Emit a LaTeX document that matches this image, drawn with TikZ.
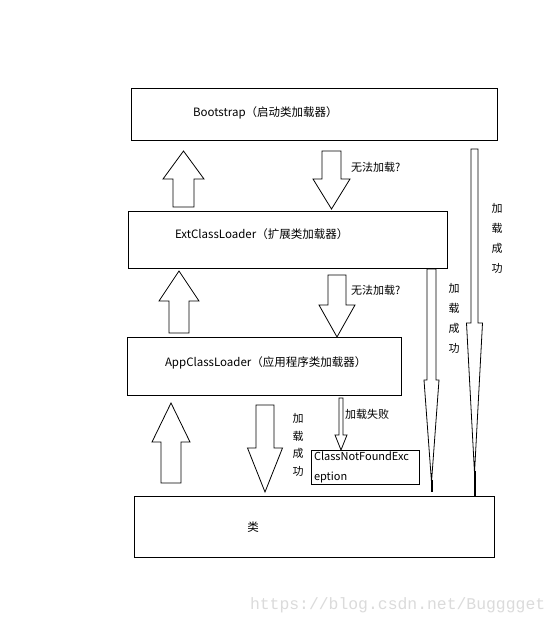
\documentclass[tikz,border=0pt]{standalone}
\usepackage{fontspec}
\setmainfont{Noto Sans CJK SC}
\setmonofont{Liberation Mono}
\usetikzlibrary{positioning}

% hollow block arrow: x, tail y, tip y, shaft half width, head half width, head base y
\newcommand{\hollowarrow}[6]{%
  \draw[blk] (#1-#4,#2) -- (#1+#4,#2) -- (#1+#4,#6) -- (#1+#5,#6)
    -- (#1,#3) -- (#1-#5,#6) -- (#1-#4,#6) -- cycle;}

\begin{document}
\begin{tikzpicture}[
    x=1pt, y=-1pt,
    every node/.style={font=\fontsize{11.5}{14}\selectfont, inner sep=0pt, outer sep=0pt},
    box/.style={draw, line width=0.8pt, anchor=north west},
    blk/.style={draw, line width=0.8pt, fill=white, line join=miter},
    lbl/.style={anchor=west},
    vlbl/.style={align=center, font=\fontsize{11}{20}\selectfont},
    wire/.style={line width=2pt}
]
\useasboundingbox[fill=white] (0,0) rectangle (560,625);

% Boxes
\node[box, minimum width=366pt, minimum height=52pt] (boot) at (131,88) {};
\node[box, minimum width=319pt, minimum height=57pt] (ext)  at (128,211) {};
\node[box, minimum width=274pt, minimum height=58pt] (app)  at (127,337) {};
\node[box, minimum width=360pt, minimum height=61pt] (cls)  at (134,496) {};
\node[box, minimum width=108pt, minimum height=34pt] (cnf)  at (311,450) {};

% Box texts
\node[lbl] (bootlbl) at (193,113) {Bootstrap（启动类加载器）};
\node[lbl] (extlbl)  at (175,234) {ExtClassLoader（扩展类加载器）};
\node[lbl] (applbl)  at (165,363) {AppClassLoader（应用程序类加载器）};
\node (clslbl) at (253,527) {类};
\node[lbl, align=left, font=\fontsize{11}{20}\selectfont] (cnflbl) at (314,467) {ClassNotFoundExc\\eption};

% Delegation arrows
\hollowarrow{183.5}{207}{151}{10.5}{20.5}{179}
\hollowarrow{331.5}{151}{209}{9.5}{18.5}{179}
\hollowarrow{179}{333}{271}{10}{20}{301}
\hollowarrow{337}{275}{337}{9}{18}{305}
\hollowarrow{171}{483}{403}{10}{19}{442}
\hollowarrow{265}{405}{492}{9}{17.5}{448}
\hollowarrow{341}{398}{450}{2}{6}{435}

% Long arrows to the class
\hollowarrow{431.5}{269}{482}{4.5}{7.5}{380}
\hollowarrow{474.5}{149}{473}{3.5}{8}{323}
\draw[wire] (431.5,480) -- (431.5,492);
\draw[wire] (474.5,471) -- (474.5,496);

% Labels
\node[lbl, font=\fontsize{11}{14}\selectfont] (fail1) at (351,167) {无法加载?};
\node[lbl, font=\fontsize{11}{14}\selectfont] (fail2) at (351,290) {无法加载?};
\node[lbl, font=\fontsize{11}{14}\selectfont] (fail3) at (345,414) {加载失败};
\node[vlbl] (ok1) at (497,238) {加\\载\\成\\功};
\node[vlbl] (ok2) at (454,318) {加\\载\\成\\功};
\node[vlbl, font=\fontsize{11}{17.5}\selectfont] (ok3) at (298,445) {加\\载\\成\\功};

% Watermark
\node[anchor=west, font=\ttfamily\fontsize{16.4}{18}\selectfont, text=black!14] (wm) at (250,605) {https://blog.csdn.net/Bugggget};
\end{tikzpicture}
\end{document}
